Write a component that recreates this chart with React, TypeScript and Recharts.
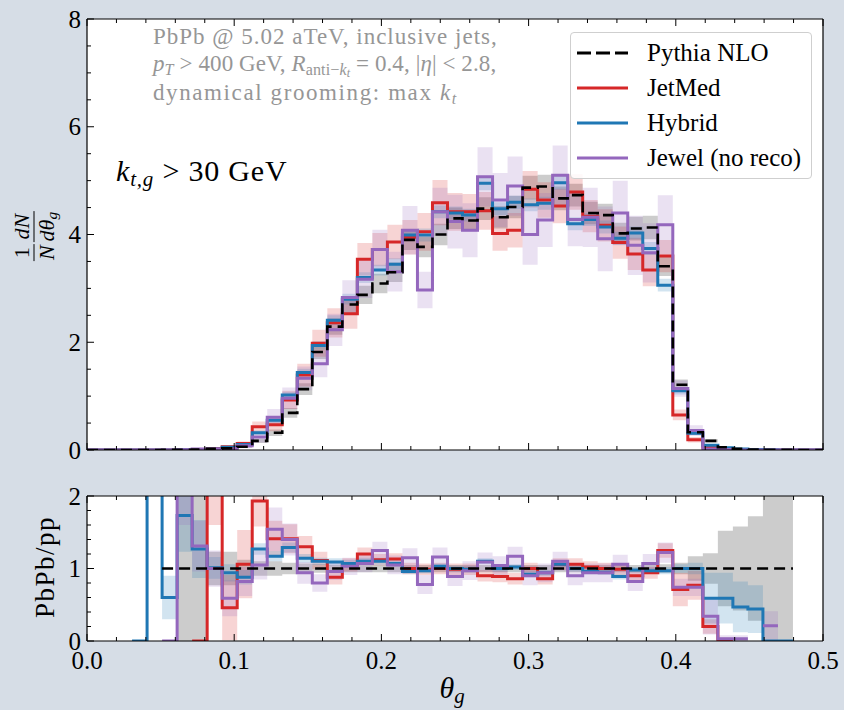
import React from 'react'
import { ComposedChart, Line, Area, XAxis, YAxis, CartesianGrid, Legend } from 'recharts'

// 49 equal bins between theta_g = 0 and 0.5
const N_BINS = 49
const THETA_MAX = 0.5

const xMajorTicks = [0, 0.1, 0.2, 0.3, 0.4, 0.5]
const distMajorTicks = [0, 2, 4, 6, 8]
const ratioMajorTicks = [0, 1, 2]

// 1/N dN/dtheta_g, one value per bin
const pythiaDist = [
  0, 0, 0, 0, 0, 0.002, 0.005, 0.01, 0.02, 0.03,
  0.06, 0.17, 0.32, 0.69, 1.13, 1.82, 2.29, 2.7, 2.88, 3.09,
  3.3, 3.9, 3.77, 4.0, 4.3, 4.26, 4.48, 4.32, 4.51, 4.87,
  4.89, 4.67, 4.73, 4.4, 4.36, 4.02, 4.11, 4.13, 3.41, 1.21,
  0.33, 0.17, 0.05, 0.02, 0.01, 0.005, 0.003, 0, 0,
]
const jetmedDist = [
  0, 0, 0, 0, 0, 0.002, 0.005, 0.01, 0.03, 0.06,
  0.12, 0.43, 0.47, 0.93, 1.39, 1.98, 2.36, 2.53, 3.54, 3.72,
  3.86, 3.95, 4.05, 4.59, 4.42, 4.42, 4.44, 4.02, 4.08, 4.84,
  4.64, 4.53, 4.79, 4.34, 4.17, 3.85, 3.64, 3.34, 3.6, 0.65,
  0.19, 0.05, 0.02, 0.01, 0.005, 0, 0, 0, 0,
]
const hybridDist = [
  0, 0, 0, 0, 0, 0.002, 0.005, 0.01, 0.02, 0.05,
  0.1, 0.32, 0.55, 1.02, 1.44, 1.94, 2.41, 2.8, 3.2, 3.34,
  3.45, 3.99, 3.99, 4.42, 4.4, 4.36, 4.95, 4.48, 4.6, 4.55,
  4.58, 4.96, 4.2, 4.28, 4.14, 3.93, 4.03, 3.74, 3.06, 1.1,
  0.31, 0.09, 0.04, 0.02, 0.01, 0.005, 0, 0, 0,
]
const jewelDist = [
  0, 0, 0, 0, 0, 0, 0.005, 0.02, 0.02, 0.03,
  0.08, 0.24, 0.61, 0.96, 1.33, 1.6, 2.23, 2.83, 3.17, 3.72,
  3.31, 4.08, 2.97, 4.42, 4.24, 4.08, 5.07, 4.64, 4.9, 4.0,
  4.27, 5.1, 4.28, 4.32, 3.92, 4.4, 3.8, 3.66, 4.18, 1.14,
  0.36, 0.02, 0.01, 0, 0, 0, 0, 0, 0,
]

// half widths of the uncertainty bands
const pythiaDistErr = [
  0, 0, 0, 0, 0, 0.002, 0.003, 0.005, 0.008, 0.01,
  0.02, 0.04, 0.06, 0.09, 0.11, 0.13, 0.15, 0.16, 0.17, 0.18,
  0.18, 0.19, 0.19, 0.2, 0.2, 0.2, 0.21, 0.21, 0.21, 0.22,
  0.22, 0.22, 0.21, 0.21, 0.21, 0.2, 0.22, 0.22, 0.18, 0.1,
  0.05, 0.03, 0.01, 0.008, 0.005, 0.003, 0.002, 0, 0,
]
const jetmedDistErr = [
  0, 0, 0, 0, 0, 0.002, 0.004, 0.008, 0.015, 0.02,
  0.04, 0.1, 0.12, 0.17, 0.21, 0.25, 0.27, 0.28, 0.3, 0.31,
  0.32, 0.32, 0.35, 0.42, 0.35, 0.33, 0.35, 0.32, 0.32, 0.34,
  0.33, 0.32, 0.33, 0.3, 0.3, 0.3, 0.3, 0.3, 0.3, 0.1,
  0.05, 0.02, 0.01, 0.005, 0.003, 0, 0, 0, 0,
]
const hybridDistErr = [
  0, 0, 0, 0, 0, 0.001, 0.002, 0.004, 0.006, 0.01,
  0.02, 0.04, 0.05, 0.06, 0.07, 0.08, 0.09, 0.1, 0.1, 0.1,
  0.11, 0.11, 0.12, 0.12, 0.12, 0.12, 0.13, 0.12, 0.12, 0.12,
  0.12, 0.13, 0.12, 0.12, 0.12, 0.12, 0.12, 0.12, 0.12, 0.07,
  0.03, 0.02, 0.01, 0.005, 0.003, 0.002, 0, 0, 0,
]
const jewelDistErr = [
  0, 0, 0, 0, 0, 0, 0.005, 0.01, 0.01, 0.02,
  0.04, 0.1, 0.15, 0.2, 0.22, 0.25, 0.3, 0.32, 0.35, 0.37,
  0.37, 0.45, 0.34, 0.45, 0.5, 0.5, 0.55, 0.5, 0.55, 0.56,
  0.5, 0.55, 0.5, 0.55, 0.6, 0.6, 0.55, 0.55, 0.55, 0.15,
  0.1, 0.02, 0.01, 0, 0, 0, 0, 0, 0,
]

// PbPb/pp ratio per bin (null = not drawn)
const pythiaRatio = [
  null, null, null, null, null, 1, 1, 1, 1, 1,
  1, 1, 1, 1, 1, 1, 1, 1, 1, 1,
  1, 1, 1, 1, 1, 1, 1, 1, 1, 1,
  1, 1, 1, 1, 1, 1, 1, 1, 1, 1,
  1, 1, 1, 1, 1, 1, 1, null, null,
]
const jetmedRatio = [
  null, null, null, null, null, null, null, 0, 2.6, 0.46,
  1.06, 1.93, 1.41, 1.41, 1.3, 1.11, 0.88, 1.05, 1.2, 1.12,
  1.13, 1.0, 0.99, 1.0, 0.99, 0.99, 0.9, 0.89, 0.86, 1.0,
  0.86, 1.06, 1.06, 1.02, 1.0, 0.99, 0.9, 0.94, 1.25, 0.71,
  0.77, 0.2, 0, null, null, null, null, null, null,
]
const hybridRatio = [
  null, null, null, 0, 2.6, 0.6, 1.73, 1.27, 1.01, 0.94,
  0.88, 1.27, 1.17, 1.29, 1.14, 1.1, 1.09, 1.07, 1.1, 1.1,
  1.07, 0.96, 0.97, 1.03, 1.0, 0.99, 1.1, 1.0, 1.02, 0.92,
  0.94, 1.06, 1.0, 0.96, 0.95, 0.89, 0.98, 0.97, 0.97, 1.0,
  1.0, 0.59, 0.59, 0.47, 0.44, 0, 0, null, null,
]
const jewelRatio = [
  null, null, null, null, null, 0, 2.6, 1.31, 1.0, 0.59,
  0.82, 1.05, 1.54, 1.4, 0.94, 0.8, 0.96, 1.03, 1.07, 1.25,
  1.05, 1.15, 0.78, 1.16, 0.89, 0.97, 1.09, 1.04, 1.17, 0.9,
  0.94, 1.1, 0.9, 0.94, 0.94, 1.06, 0.82, 1.07, 1.22, 0.74,
  0.74, 0.34, 0.03, 0.03, null, 0.21, null, null, null,
]

const pythiaRatioErr = [
  null, null, null, null, null, 0, 3, 3, 0.23, 0.23,
  0.12, 0.1, 0.1, 0.08, 0.07, 0.06, 0.05, 0.05, 0.05, 0.05,
  0.05, 0.05, 0.05, 0.05, 0.05, 0.05, 0.05, 0.05, 0.05, 0.05,
  0.05, 0.05, 0.05, 0.05, 0.05, 0.05, 0.05, 0.05, 0.06, 0.08,
  0.17, 0.21, 0.52, 0.58, 0.72, 1.0, 1.6, null, null,
]
const jetmedRatioErr = [
  null, null, null, null, null, null, null, 0, 1.0, 0.45,
  0.47, 0.35, 0.25, 0.2, 0.15, 0.12, 0.1, 0.09, 0.09, 0.08,
  0.08, 0.08, 0.08, 0.08, 0.08, 0.08, 0.08, 0.08, 0.08, 0.08,
  0.08, 0.08, 0.08, 0.08, 0.08, 0.08, 0.08, 0.08, 0.1, 0.23,
  0.2, 0.1, 0.05, null, null, null, null, null, null,
]
const hybridRatioErr = [
  null, null, null, 0, 0, 0.3, 0.5, 0.4, 0.15, 0.12,
  0.1, 0.08, 0.07, 0.07, 0.06, 0.05, 0.05, 0.05, 0.05, 0.05,
  0.04, 0.04, 0.04, 0.04, 0.04, 0.04, 0.04, 0.04, 0.04, 0.04,
  0.04, 0.04, 0.04, 0.04, 0.04, 0.04, 0.04, 0.04, 0.05, 0.06,
  0.08, 0.35, 0.35, 0.35, 0.33, 0, 0, null, null,
]
const jewelRatioErr = [
  null, null, null, null, null, 0, 1.0, 0.35, 0.25, 0.25,
  0.2, 0.2, 0.3, 0.22, 0.15, 0.12, 0.12, 0.12, 0.12, 0.12,
  0.13, 0.13, 0.13, 0.13, 0.13, 0.13, 0.13, 0.13, 0.13, 0.13,
  0.13, 0.13, 0.13, 0.13, 0.13, 0.13, 0.13, 0.13, 0.14, 0.12,
  0.12, 0.25, 0.05, 0.05, null, 0.2, null, null, null,
]

const SERIES = [
  { key: 'pythia', name: 'Pythia NLO', color: '#000000', width: 2.6, dash: '11 6' },
  { key: 'jetmed', name: 'JetMed', color: '#d62728', width: 3 },
  { key: 'hybrid', name: 'Hybrid', color: '#1f77b4', width: 3 },
  { key: 'jewel', name: 'Jewel (no reco)', color: '#9467bd', width: 3 },
]

const FONT = "'Liberation Serif', 'Times New Roman', serif"
const BG = '#d6dde6'

// each bin becomes two points (left and right edge) so the lines and bands are steps
function stepRows(values: Record<string, (number | null)[]>, errors: Record<string, (number | null)[]>) {
  const w = THETA_MAX / N_BINS
  const rows: any[] = []
  for (let k = 0; k < N_BINS; k++) {
    for (const edge of [k, k + 1]) {
      const row: any = { x: edge * w }
      Object.keys(values).forEach(key => {
        const v = values[key][k]
        const e = errors[key][k]
        row[key] = v
        row[key + 'Band'] = v == null || e == null ? null : [v - e, v + e]
      })
      rows.push(row)
    }
  }
  return rows
}

const distRows = stepRows(
  { pythia: pythiaDist, jetmed: jetmedDist, hybrid: hybridDist, jewel: jewelDist },
  { pythia: pythiaDistErr, jetmed: jetmedDistErr, hybrid: hybridDistErr, jewel: jewelDistErr }
)
const ratioRows = stepRows(
  { pythia: pythiaRatio, jetmed: jetmedRatio, hybrid: hybridRatio, jewel: jewelRatio },
  { pythia: pythiaRatioErr, jetmed: jetmedRatioErr, hybrid: hybridRatioErr, jewel: jewelRatioErr }
)

function tickList(max: number, step: number) {
  const n = Math.round(max / step)
  return Array.from({ length: n + 1 }, (_, i) => Number((i * step).toFixed(6)))
}
const xTicks = tickList(0.5, 0.02)
const distTicks = tickList(8, 0.5)
const ratioTicks = tickList(2, 0.2)

const fmtX = (v: number) => v.toFixed(1)
const fmtY = (v: number) => String(v)

// inward ticks like matplotlib, labels only on major ticks
const renderTick = (side: string, majors: number[], fmt: ((v: number) => string) | null) => (props: any) => {
  const { x, y, payload } = props
  const v = payload.value
  const major = majors.some(m => Math.abs(m - v) < 1e-6)
  const len = major ? 7 : 4
  const d: Record<string, number[]> = { bottom: [0, -len], top: [0, len], left: [len, 0], right: [-len, 0] }
  const [dx, dy] = d[side]
  return (
    <g>
      <line x1={x} y1={y} x2={x + dx} y2={y + dy} stroke="#000" strokeWidth={1} />
      {fmt && major && side === 'bottom' && (
        <text x={x} y={y + 19} textAnchor="middle" dominantBaseline="central" fontFamily={FONT} fontSize={25} fill="#000">
          {fmt(v)}
        </text>
      )}
      {fmt && major && side === 'left' && (
        <text x={x - 6} y={y} textAnchor="end" dominantBaseline="central" fontFamily={FONT} fontSize={25} fill="#000">
          {fmt(v)}
        </text>
      )}
    </g>
  )
}

const axisLine = { stroke: '#000', strokeWidth: 1.2 }

function LegendBox() {
  return (
    <div
      style={{
        width: 242,
        height: 147,
        boxSizing: 'border-box',
        background: 'rgba(255,255,255,0.85)',
        border: '1px solid #cfcfcf',
        borderRadius: 4,
        paddingTop: 2,
        paddingLeft: 6,
        fontFamily: FONT,
      }}
    >
      {SERIES.map(s => (
        <div key={s.key} style={{ display: 'flex', alignItems: 'center', height: 35 }}>
          <svg width={51} height={6} style={{ flex: 'none' }}>
            <line x1={0} x2={51} y1={3} y2={3} stroke={s.color} strokeWidth={3} strokeDasharray={s.dash ? '14 5' : undefined} />
          </svg>
          <span style={{ marginLeft: 19, fontSize: 25, color: '#000', whiteSpace: 'nowrap' }}>{s.name}</span>
        </div>
      ))}
    </div>
  )
}

const frac = (num: React.ReactNode, den: React.ReactNode) => (
  <span style={{ display: 'inline-flex', flexDirection: 'column', alignItems: 'center', lineHeight: 1, margin: '0 1px' }}>
    <span style={{ padding: '0 1px 1px' }}>{num}</span>
    <span style={{ borderTop: '1px solid #000', padding: '1px 1px 0' }}>{den}</span>
  </span>
)

const subStyle: React.CSSProperties = { fontSize: '0.7em', verticalAlign: '-0.25em', lineHeight: 0 }
const subSubStyle: React.CSSProperties = { fontSize: '0.75em', verticalAlign: '-0.15em', lineHeight: 0 }

function bands() {
  return SERIES.map(s => (
    <Area
      key={s.key + 'Band'}
      dataKey={s.key + 'Band'}
      type="linear"
      stroke="none"
      fill={s.color}
      fillOpacity={0.2}
      dot={false}
      activeDot={false}
      connectNulls={false}
      isAnimationActive={false}
    />
  ))
}

function lines() {
  // reference curve drawn last so its dashes stay visible
  const order = [SERIES[1], SERIES[2], SERIES[3], SERIES[0]]
  return order.map(s => (
    <Line
      key={s.key}
      dataKey={s.key}
      type="linear"
      stroke={s.color}
      strokeWidth={s.width}
      strokeDasharray={s.dash}
      dot={false}
      activeDot={false}
      connectNulls={false}
      isAnimationActive={false}
    />
  ))
}

const greyText: React.CSSProperties = {
  position: 'absolute',
  left: 153,
  fontSize: 23,
  lineHeight: '27px',
  color: '#969696',
  whiteSpace: 'nowrap',
}

export default function App() {
  return (
    <div
      style={{
        position: 'absolute',
        left: 0,
        top: 0,
        width: 844,
        height: 710,
        background: BG,
        overflow: 'hidden',
        fontFamily: FONT,
      }}
    >
      <div style={{ position: 'absolute', left: 0, top: 0 }}>
        <ComposedChart width={844} height={470} data={distRows} margin={{ top: 18, right: 20, bottom: 19, left: 86 }}>
          <CartesianGrid horizontal={false} vertical={false} fill="#ffffff" />
          <XAxis dataKey="x" type="number" domain={[0, 0.5]} ticks={xTicks} interval={0} height={1}
            tickSize={0} tickMargin={0} tickLine={false} axisLine={axisLine} tick={renderTick('bottom', xMajorTicks, null)} />
          <XAxis xAxisId="top" orientation="top" dataKey="x" type="number" domain={[0, 0.5]} ticks={xTicks} interval={0} height={1}
            tickSize={0} tickMargin={0} tickLine={false} axisLine={axisLine} tick={renderTick('top', xMajorTicks, null)} />
          <YAxis type="number" domain={[0, 8]} ticks={distTicks} interval={0} width={1} allowDataOverflow
            tickSize={0} tickMargin={0} tickLine={false} axisLine={axisLine} tick={renderTick('left', distMajorTicks, fmtY)} />
          <YAxis yAxisId="right" orientation="right" type="number" domain={[0, 8]} ticks={distTicks} interval={0} width={1}
            tickSize={0} tickMargin={0} tickLine={false} axisLine={axisLine} tick={renderTick('right', distMajorTicks, null)} />
          {bands()}
          {lines()}
          <Legend
            content={() => <LegendBox />}
            layout="vertical"
            align="center"
            verticalAlign="middle"
            wrapperStyle={{ left: 570, top: 32, width: 242 }}
          />
        </ComposedChart>
      </div>

      <div style={{ position: 'absolute', left: 0, top: 470 }}>
        <ComposedChart width={844} height={240} data={ratioRows} margin={{ top: 25, right: 20, bottom: 68, left: 86 }}>
          <CartesianGrid horizontal={false} vertical={false} fill="#ffffff" />
          <XAxis dataKey="x" type="number" domain={[0, 0.5]} ticks={xTicks} interval={0} height={1}
            tickSize={0} tickMargin={0} tickLine={false} axisLine={axisLine} tick={renderTick('bottom', xMajorTicks, fmtX)} />
          <XAxis xAxisId="top" orientation="top" dataKey="x" type="number" domain={[0, 0.5]} ticks={xTicks} interval={0} height={1}
            tickSize={0} tickMargin={0} tickLine={false} axisLine={axisLine} tick={renderTick('top', xMajorTicks, null)} />
          <YAxis type="number" domain={[0, 2]} ticks={ratioTicks} interval={0} width={1} allowDataOverflow
            tickSize={0} tickMargin={0} tickLine={false} axisLine={axisLine} tick={renderTick('left', ratioMajorTicks, fmtY)} />
          <YAxis yAxisId="right" orientation="right" type="number" domain={[0, 2]} ticks={ratioTicks} interval={0} width={1}
            tickSize={0} tickMargin={0} tickLine={false} axisLine={axisLine} tick={renderTick('right', ratioMajorTicks, null)} />
          {bands()}
          {lines()}
        </ComposedChart>
      </div>

      {/* annotations */}
      <div style={{ ...greyText, top: 23, letterSpacing: 1.0 }}>PbPb @ 5.02 aTeV, inclusive jets,</div>
      <div style={{ ...greyText, top: 50, letterSpacing: 0.1 }}>
        <i>p</i><sub style={subStyle}><i>T</i></sub> &gt; 400 GeV, <i>R</i>
        <sub style={subStyle}>anti−<i>k</i><sub style={subSubStyle}><i>t</i></sub></sub> = 0.4, |<i>η</i>| &lt; 2.8,
      </div>
      <div style={{ ...greyText, top: 79, letterSpacing: 1.6 }}>
        dynamical grooming: max <i>k</i><sub style={subStyle}><i>t</i></sub>
      </div>
      <div style={{ position: 'absolute', left: 116, top: 155, fontSize: 30, lineHeight: '32px', letterSpacing: 0.8, color: '#000', whiteSpace: 'nowrap' }}>
        <i>k</i><sub style={subStyle}><i>t,g</i></sub> &gt; 30 GeV
      </div>

      {/* axis labels */}
      <div
        style={{
          position: 'absolute',
          left: 34,
          top: 236,
          transform: 'translate(-50%, -50%) rotate(-90deg)',
          fontSize: 22,
          display: 'flex',
          alignItems: 'center',
          whiteSpace: 'nowrap',
          color: '#000',
        }}
      >
        {frac('1', <i>N</i>)}
        {frac(<i>dN</i>, <span><i>dθ</i><sub style={subStyle}><i>g</i></sub></span>)}
      </div>
      <div
        style={{
          position: 'absolute',
          left: 45,
          top: 567,
          transform: 'translate(-50%, -50%) rotate(-90deg)',
          fontSize: 27,
          letterSpacing: 1.5,
          whiteSpace: 'nowrap',
          color: '#000',
        }}
      >
        PbPb/pp
      </div>
      <div
        style={{
          position: 'absolute',
          left: 452,
          top: 688,
          transform: 'translate(-50%, -50%)',
          fontSize: 30,
          whiteSpace: 'nowrap',
          color: '#000',
        }}
      >
        <i>θ</i><sub style={subStyle}><i>g</i></sub>
      </div>
    </div>
  )
}
